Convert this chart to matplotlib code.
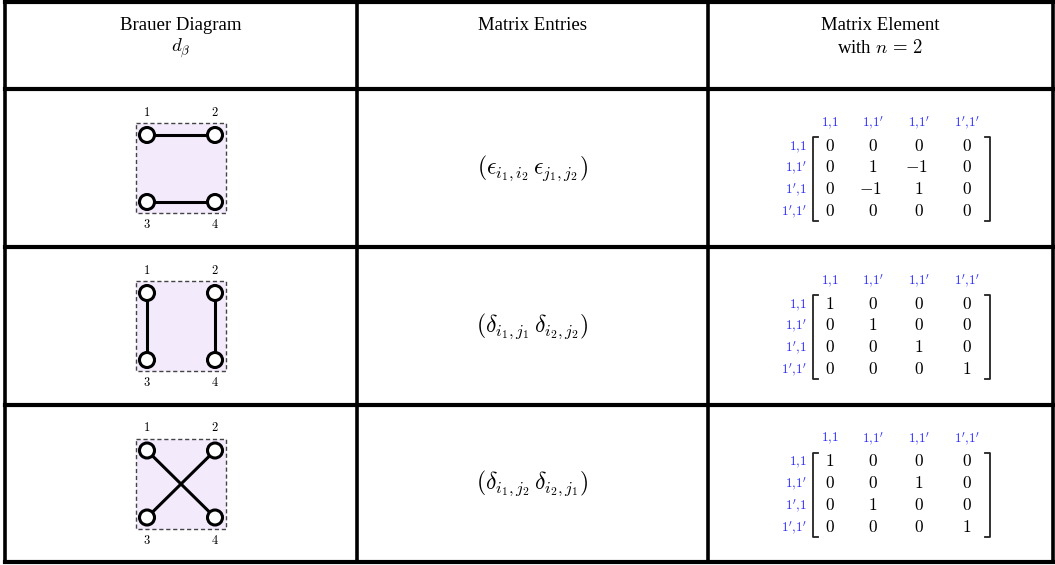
import numpy as np
import matplotlib
matplotlib.use('Agg')
import matplotlib.pyplot as plt
from matplotlib.patches import Rectangle, Circle

plt.rcParams['mathtext.fontset'] = 'cm'
plt.rcParams['font.family'] = ['Liberation Serif', 'DejaVu Serif']

headers = [['Brauer Diagram', r'$d_\beta$'],
           ['Matrix Entries'],
           ['Matrix Element', r'with $n\,=\,2$']]

# brauer diagram edges, nodes 1 2 on top, 3 4 below
edges = [[(1, 2), (3, 4)],
         [(1, 3), (2, 4)],
         [(1, 4), (2, 3)]]

entries = [r'$(\epsilon_{i_1,i_2}\,\epsilon_{j_1,j_2})$',
           r'$(\delta_{i_1,j_1}\,\delta_{i_2,j_2})$',
           r'$(\delta_{i_1,j_2}\,\delta_{i_2,j_1})$']

col_labels = ["1,1", "1,1'", "1,1'", "1',1'"]
row_labels = ["1,1", "1,1'", "1',1", "1',1'"]

mat_eps = np.array([[0, 0, 0, 0],
                    [0, 1, -1, 0],
                    [0, -1, 1, 0],
                    [0, 0, 0, 0]])
mat_id = np.array([[1, 0, 0, 0],
                   [0, 1, 0, 0],
                   [0, 0, 1, 0],
                   [0, 0, 0, 1]])
mat_swap = np.array([[1, 0, 0, 0],
                     [0, 0, 1, 0],
                     [0, 1, 0, 0],
                     [0, 0, 0, 1]])
matrices = [mat_eps, mat_id, mat_swap]


def tight(lab):
    # no extra space after the comma, like the latex labels
    return '$' + lab.replace(',', '{,}') + '$'


fig = plt.figure(figsize=(10.55, 5.65), dpi=100)
ax = fig.add_axes([0, 0, 1, 1])
ax.set_xlim(0, 1055)
ax.set_ylim(565, 0)
ax.axis('off')

# table grid
col_x = [5, 357, 708, 1053]
row_y = [1.5, 89, 247, 405, 562]
for x in col_x:
    ax.plot([x, x], [row_y[0], row_y[-1]], color='black', lw=2.6, solid_capstyle='projecting')
for y in row_y:
    ax.plot([col_x[0], col_x[-1]], [y, y], color='black', lw=3, solid_capstyle='projecting')

# headers
for c, lines in enumerate(headers):
    xc = (col_x[c] + col_x[c + 1]) / 2
    for k, t in enumerate(lines):
        ax.text(xc, 25 + 23 * k, t, ha='center', va='center', fontsize=13.5)

blue = '#2b2bff'
for r in range(3):
    yc = (row_y[r + 1] + row_y[r + 2]) / 2

    # brauer diagram
    bx = (col_x[0] + col_x[1]) / 2
    ax.add_patch(Rectangle((bx - 45, yc - 45), 90, 90, facecolor='#f3eafc',
                           edgecolor='#444444', lw=1, ls=(0, (3, 2))))
    pos = {1: (bx - 34, yc - 33), 2: (bx + 34, yc - 33),
           3: (bx - 34, yc + 34), 4: (bx + 34, yc + 34)}
    for a, b in edges[r]:
        ax.plot([pos[a][0], pos[b][0]], [pos[a][1], pos[b][1]], color='black', lw=2.2, zorder=3)
    for n, (px, py) in pos.items():
        ax.add_patch(Circle((px, py), 7.5, facecolor='white', edgecolor='black', lw=2.2, zorder=4))
        ly = py - 23 if n <= 2 else py + 23
        ax.text(px, ly, f'${n}$', ha='center', va='center', fontsize=9)

    # matrix entries
    ax.text((col_x[1] + col_x[2]) / 2, yc, entries[r], ha='center', va='center', fontsize=17)

    # matrix element
    mx = [830, 873, 919, 967]
    my = [yc - 21, yc, yc + 22, yc + 44]
    for j, lab in enumerate(col_labels):
        ax.text(mx[j], yc - 45, tight(lab), ha='center', va='center', fontsize=9.5, color=blue)
    for i, lab in enumerate(row_labels):
        ax.text(807, my[i], tight(lab), ha='right', va='center', fontsize=9.5, color=blue)
        for j in range(4):
            v = matrices[r][i, j]
            ax.text(mx[j] + (-3 if v < 0 else 0), my[i], f'${v}$', ha='center', va='center', fontsize=12.5)
    top, bot = yc - 31, yc + 53
    ax.plot([818, 813, 813, 818], [top, top, bot, bot], color='#222222', lw=1.3)
    ax.plot([985, 990, 990, 985], [top, top, bot, bot], color='#222222', lw=1.3)

fig.savefig('out.png', dpi=100)
